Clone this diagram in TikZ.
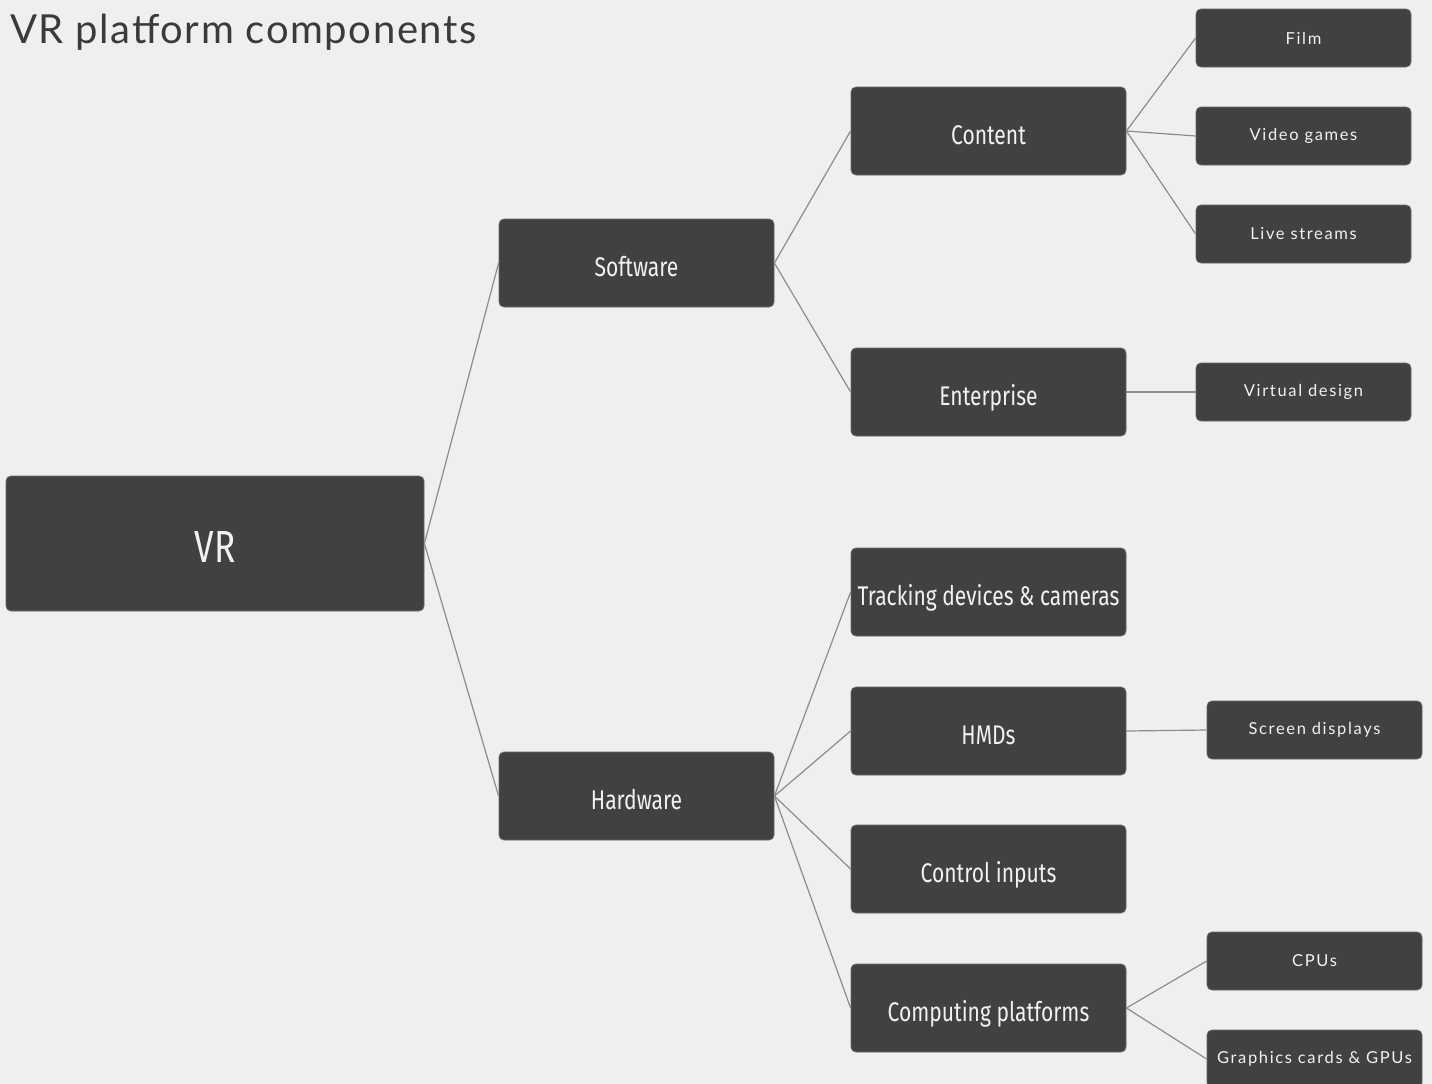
\documentclass[tikz,border=0pt]{standalone}
\usepackage{fontspec}
\newfontfamily\titlefont[LetterSpace=4]{Lato}
\newfontfamily\smallfont[LetterSpace=10]{Lato}
\newfontfamily\condfont[FakeStretch=0.78]{Fira Sans}
\definecolor{bgc}{HTML}{EFEFEF}
\definecolor{boxc}{HTML}{414042}
\definecolor{edgec}{HTML}{8C8C8C}
\definecolor{txtc}{HTML}{F2F2F2}
\definecolor{titlec}{HTML}{3A3A3C}
\tikzset{
  bigbox/.style={fill=boxc, draw=boxc!80!white, line width=0.8pt, rounded corners=5pt, text=txtc, inner sep=0pt},
  mainbox/.style={bigbox, minimum width=275, minimum height=88, text height=27pt, text depth=0pt, font=\condfont\fontsize{27}{30}\selectfont},
  leafbox/.style={bigbox, minimum width=215, minimum height=58, font=\smallfont\fontsize{16.5}{18}\selectfont},
  rootbox/.style={bigbox, minimum width=418, minimum height=135, text height=38pt, text depth=0pt, font=\condfont\fontsize{45}{52}\selectfont},
  link/.style={draw=edgec, line width=1.2pt}
}
\begin{document}
\begin{tikzpicture}[x=1pt,y=-1pt]
\useasboundingbox[fill=bgc] (0,0) rectangle (1432,1084);
\node[anchor=base west, text=titlec, font=\titlefont\fontsize{40}{44}\selectfont, inner sep=0pt] (title) at (10,43) {VR platform components};

\node[rootbox] (vr) at (215,543.5) {VR};
\node[mainbox] (sw) at (636.5,263) {Software};
\node[mainbox] (hw) at (636.5,796) {Hardware};

\node[mainbox] (content) at (988.5,131) {Content};
\node[mainbox] (ent) at (988.5,392) {Enterprise};
\node[mainbox] (track) at (988.5,592) {Tracking devices \& cameras};
\node[mainbox] (hmd) at (988.5,731) {HMDs};
\node[mainbox] (ctrl) at (988.5,869) {Control inputs};
\node[mainbox] (comp) at (988.5,1008) {Computing platforms};

\node[leafbox] (film) at (1303.5,38) {Film};
\node[leafbox] (games) at (1303.5,136) {Video games};
\node[leafbox] (live) at (1303.5,234) {Live streams};
\node[leafbox] (vd) at (1303.5,392) {Virtual design};
\node[leafbox] (screen) at (1314.5,730) {Screen displays};
\node[leafbox] (cpu) at (1314.5,961) {CPUs};
\node[leafbox] (gpu) at (1314.5,1059) {Graphics cards \& GPUs};

\draw[link] (vr.east) -- (sw.west);
\draw[link] (vr.east) -- (hw.west);
\draw[link] (sw.east) -- (content.west);
\draw[link] (sw.east) -- (ent.west);
\draw[link] (hw.east) -- (track.west);
\draw[link] (hw.east) -- (hmd.west);
\draw[link] (hw.east) -- (ctrl.west);
\draw[link] (hw.east) -- (comp.west);
\draw[link] (content.east) -- (film.west);
\draw[link] (content.east) -- (games.west);
\draw[link] (content.east) -- (live.west);
\draw[link] (ent.east) -- (vd.west);
\draw[link] (hmd.east) -- (screen.west);
\draw[link] (comp.east) -- (cpu.west);
\draw[link] (comp.east) -- (gpu.west);
\end{tikzpicture}
\end{document}
